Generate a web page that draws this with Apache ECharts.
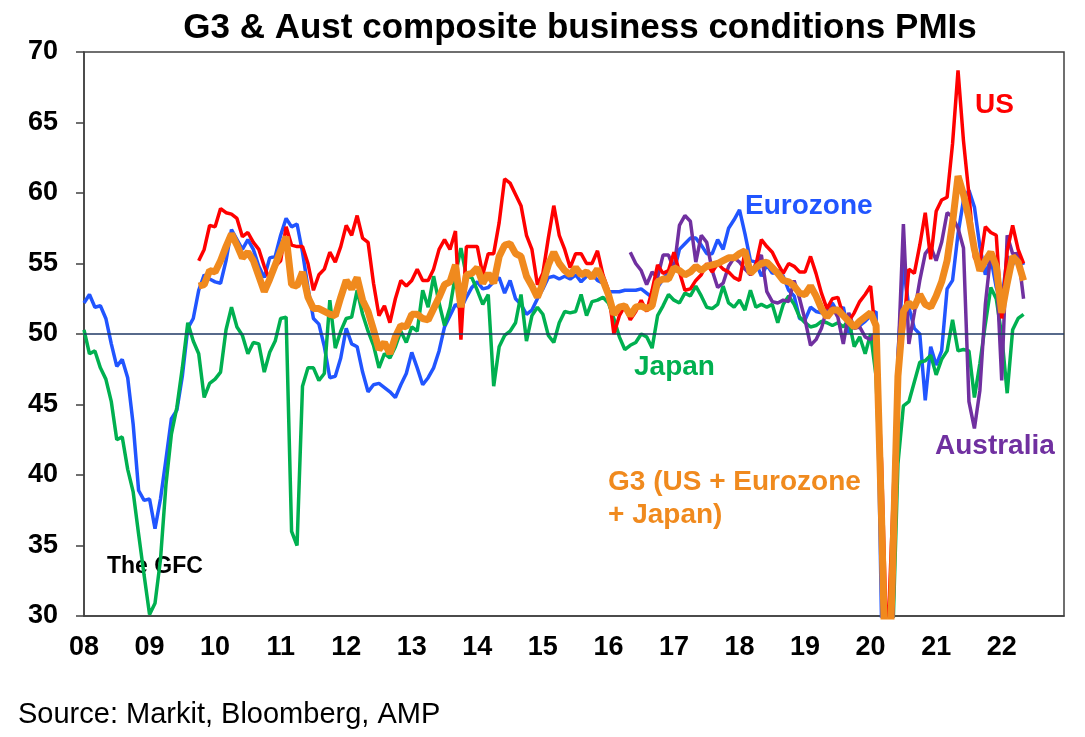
<!DOCTYPE html>
<html>
<head>
<meta charset="utf-8">
<title>G3 & Aust composite business conditions PMIs</title>
<script src="https://cdn.jsdelivr.net/npm/echarts@6/dist/echarts.min.js"></script>
<style>
  html, body { margin: 0; padding: 0; background: #fff; }
  #chart { width: 1085px; height: 737px; }
</style>
</head>
<body>
<div id="chart"></div>
<script>
// monthly readings, month 0 = Jan 2008
var yearLabels = ['08','09','10','11','12','13','14','15','16','17','18','19','20','21','22'];

// Eurozone composite PMI from Jan 2008
var eurozoneStart = 0;
var eurozone = [
  52.2, 52.8, 51.9, 52.0, 51.1, 49.3, 47.7, 48.2, 46.9, 43.6, 38.9, 38.2,
  38.3, 36.2, 38.3, 41.1, 44.0, 44.6, 47.0, 50.4, 51.1, 53.1, 54.2, 53.9,
  53.7, 53.6, 55.2, 57.4, 56.7, 56.0, 56.7, 56.0, 54.8, 54.0, 55.4, 55.5,
  57.0, 58.2, 57.6, 57.8, 55.8, 53.3, 51.1, 50.7, 49.1, 46.9, 47.0, 48.3,
  50.4, 49.3, 49.1, 47.3, 45.9, 46.4, 46.5, 46.2, 45.9, 45.5, 46.4, 47.2,
  48.7, 47.6, 46.4, 46.9, 47.6, 48.8, 50.5, 51.3, 52.1, 51.8, 52.6, 53.3,
  53.7, 53.2, 53.3, 53.7, 54.0, 52.9, 53.8, 52.5, 52.1, 51.4, 51.7, 52.5,
  53.2, 54.0, 54.1, 53.9, 54.1, 53.9, 54.2, 53.7, 54.1, 54.3, 53.8, 53.6,
  53.0, 53.0, 53.0, 53.1, 53.1, 53.1, 53.2, 52.9, 52.6, 53.3, 53.9, 54.4,
  54.4, 56.0, 56.4, 56.8, 56.8, 56.3, 55.7, 55.7, 56.7, 56.0, 57.5, 58.1,
  58.8, 57.1, 55.2, 55.1, 54.1, 54.9, 54.3, 54.5, 54.1, 53.1, 52.7, 51.1,
  51.0, 51.9, 51.6, 51.5, 51.8, 52.2, 51.5, 51.9, 50.1, 50.6, 50.6, 50.9,
  51.3, 51.6, 29.7, 13.6, 31.9, 48.5, 54.9, 51.9, 50.4, 50.0, 45.3, 49.1,
  47.8, 48.8, 53.2, 53.8, 57.1, 59.5, 60.2, 59.0, 56.2, 54.2, 55.4, 53.3,
  52.3, 55.5, 54.9, 55.8, 54.9
];

// Japan composite PMI from Jan 2008
var japanStart = 0;
var japan = [
  50.3, 48.6, 48.8, 47.6, 46.8, 45.2, 42.5, 42.7, 40.4, 38.8, 35.8, 32.9,
  30.1, 30.9, 34.0, 39.3, 42.9, 44.8, 47.6, 50.8, 49.5, 48.6, 45.5, 46.5,
  46.8, 47.3, 50.3, 51.9, 50.5, 49.9, 48.6, 49.4, 49.3, 47.3, 48.7, 49.5,
  51.1, 51.2, 36.0, 35.0, 46.3, 47.6, 47.6, 46.7, 47.2, 52.4, 49.0, 50.2,
  51.1, 51.2, 53.1, 51.4, 50.2, 49.2, 47.6, 48.6, 48.3, 49.1, 50.2, 49.4,
  50.5, 50.2, 53.1, 51.9, 54.1, 52.2, 50.6, 51.9, 54.2, 56.1, 54.1, 54.0,
  53.1, 52.1, 52.8, 46.3, 49.1, 49.9, 50.2, 50.8, 52.8, 49.5, 51.3, 51.9,
  51.4, 49.9, 49.4, 50.8, 51.6, 51.5, 51.6, 52.8, 51.3, 52.3, 52.4, 52.6,
  52.2, 51.1, 49.8, 48.9, 49.2, 49.4, 50.0, 49.8, 49.0, 51.3, 52.0, 52.8,
  52.4, 52.2, 52.9, 52.7, 53.4, 52.7, 51.9, 51.8, 52.1, 53.4, 52.2, 51.9,
  52.4, 51.7, 53.1, 51.9, 52.1, 51.9, 52.1, 50.8, 52.1, 52.7, 52.1, 51.2,
  50.8, 50.5, 50.6, 50.9, 50.8, 50.6, 50.8, 50.5, 51.0, 49.1, 49.8, 48.6,
  50.0, 47.0, 36.2, 25.8, 27.8, 40.8, 44.9, 45.2, 46.6, 48.0, 48.1, 48.5,
  47.1, 48.2, 48.8, 51.0, 48.8, 48.9, 48.8, 45.5, 47.9, 50.7, 53.3, 52.5,
  49.9, 45.8, 50.3, 51.1, 51.4
];

// US composite PMI from Oct 2009
var usStart = 21;
var us = [
  55.2, 56.0, 57.7,
  57.6, 58.9, 58.6, 58.5, 58.2, 56.9, 57.2, 56.5, 56.0, 54.8, 53.8, 54.8,
  55.2, 57.6, 56.3, 56.2, 56.2, 55.0, 53.1, 54.2, 54.6, 55.8, 55.1, 56.2,
  57.7, 57.0, 58.4, 56.8, 56.5, 53.6, 51.3, 52.0, 50.8, 52.5, 53.8, 53.4,
  53.8, 54.6, 53.8, 53.8, 54.6, 56.0, 56.7, 56.0, 57.3, 49.6, 56.2, 56.2,
  56.2, 54.2, 55.7, 55.7, 57.9, 61.0, 60.7, 59.9, 59.1, 57.0, 56.0, 53.5,
  54.3, 56.8, 59.1, 57.0, 56.0, 54.7, 55.7, 55.7, 55.0, 55.0, 55.9, 54.2,
  53.1, 50.0, 51.3, 52.0, 51.0, 51.6, 52.4, 51.6, 53.1, 54.9, 54.3, 54.5,
  55.8, 54.4, 53.1, 53.2, 53.8, 54.2, 55.0, 54.4, 55.0, 54.6, 54.4, 54.0,
  53.8, 55.8, 54.2, 54.9, 56.7, 56.2, 55.8, 55.0, 54.3, 55.0, 54.8, 54.4,
  54.4, 55.5, 54.3, 52.9, 51.8, 52.5, 52.6, 51.3, 50.9, 51.5, 52.3, 52.8,
  53.4, 49.6, 40.9, 27.0, 37.0, 47.9, 50.3, 54.6, 54.3, 56.3, 58.6, 55.3,
  58.7, 59.5, 59.7, 63.5, 68.7, 63.7, 59.9, 55.4, 55.0, 57.6, 57.2, 57.0,
  51.1, 55.9, 57.7, 56.0, 55.0
];

// G3 (US + Eurozone + Japan) from Oct 2009
var g3Start = 21;
var g3 = [
  53.4, 53.5, 54.5,
  54.4, 55.2, 56.2, 57.1, 56.3, 55.4, 55.8, 55.2, 54.1, 53.0, 53.9, 54.9,
  55.9, 56.9, 53.5, 53.4, 54.4, 52.6, 51.8, 51.8, 51.6, 51.4, 51.3, 52.6,
  53.8, 53.2, 54.0, 52.4, 51.6, 50.3, 48.9, 49.4, 48.6, 49.8, 50.6, 50.5,
  51.4, 51.4, 51.1, 51.0, 51.8, 52.6, 53.5, 53.7, 54.9, 51.9, 54.2, 54.3,
  54.7, 53.6, 54.3, 53.6, 55.5, 56.3, 56.4, 55.7, 55.5, 54.1, 53.4, 52.6,
  53.6, 54.9, 55.8, 55.0, 54.5, 54.2, 54.7, 54.2, 54.4, 54.0, 54.6, 53.8,
  52.8, 51.4, 51.9, 52.0, 51.3, 51.9, 52.0, 51.8, 52.0, 53.7, 53.9, 53.9,
  54.7, 54.5, 54.2, 54.4, 54.8, 54.5, 54.8, 54.9, 55.0, 55.2, 55.4, 55.4,
  55.7, 55.9, 54.3, 54.7, 55.0, 55.1, 54.7, 54.3, 53.8, 53.7, 53.4, 52.9,
  52.8, 53.4, 52.7, 51.8, 51.2, 51.7, 51.7, 51.3, 50.9, 50.5, 50.9, 51.2,
  51.5, 50.6, 37.0, 21.0, 33.0, 47.0, 51.6, 52.2, 51.9, 52.8, 52.1, 51.9,
  52.7, 53.7, 55.2, 57.9, 61.2, 59.9, 58.2, 56.0, 54.5, 55.2, 55.8, 54.8,
  51.5, 53.6, 55.5, 55.1, 53.8
];

// Australia composite PMI from May 2016
var australiaStart = 100;
var australia = [
  55.8, 55.0, 54.5, 53.5, 54.4, 54.0, 55.6, 55.6,
  54.6, 57.7, 58.4, 58.0, 55.1, 57.0, 56.5, 54.5, 53.3, 53.6, 54.8, 55.4,
  55.1, 54.6, 54.2, 55.0, 55.6, 53.0, 52.3, 52.2, 52.4, 52.3, 53.8, 52.5,
  51.0, 49.2, 49.6, 50.4, 51.8, 51.9, 51.2, 49.3, 51.5, 50.4, 50.5, 49.8,
  49.6, 50.2, 39.4, 21.7, 28.1, 48.0, 57.8, 49.3, 51.5, 53.8, 55.7, 56.2,
  55.2, 56.5, 58.6, 58.3, 57.5, 56.1, 45.2, 43.3, 46.0, 52.1, 55.7, 54.9,
  46.7, 57.0, 55.7, 55.7, 52.5
];

function toPoints(start, values) {
  return values.map(function (v, i) { return [start + i, v]; });
}

function lineSeries(name, start, values, color, width) {
  return {
    name: name,
    type: 'line',
    data: toPoints(start, values),
    showSymbol: false,
    clip: true,
    lineStyle: { color: color, width: width },
    itemStyle: { color: color },
    emphasis: { disabled: true }
  };
}

var FONT = '"Liberation Sans", Arial, sans-serif';

var myChart = echarts.init(document.getElementById('chart'));
myChart.setOption({
  animation: false,
  backgroundColor: '#ffffff',
  grid: {
    left: 84, right: 21, top: 52, bottom: 121,
    show: true, borderColor: '#404040', borderWidth: 1.5
  },
  xAxis: {
    type: 'value',
    min: 0,
    max: 179.4,
    interval: 12,
    axisLine: { show: true, lineStyle: { color: '#404040', width: 1.5 } },
    axisTick: { show: false },
    splitLine: { show: false },
    axisLabel: {
      margin: 18,
      color: '#000',
      fontFamily: FONT,
      fontWeight: 'bold',
      fontSize: 27,
      showMaxLabel: false,
      formatter: function (v) {
        if (v % 12 !== 0) return '';
        return yearLabels[v / 12] || '';
      }
    }
  },
  yAxis: {
    type: 'value',
    min: 30,
    max: 70,
    interval: 5,
    axisLine: { show: true, lineStyle: { color: '#404040', width: 1.5 } },
    axisTick: { show: true, inside: false, length: 8, lineStyle: { color: '#404040', width: 1.5 } },
    splitLine: { show: false },
    axisLabel: {
      margin: 26,
      color: '#000',
      fontFamily: FONT,
      fontWeight: 'bold',
      fontSize: 27
    }
  },
  series: [
    {
      name: 'ref',
      type: 'line',
      data: [],
      markLine: {
        silent: true,
        symbol: 'none',
        label: { show: false },
        lineStyle: { color: '#1F3864', width: 1.5, type: 'solid' },
        data: [{ yAxis: 50 }]
      }
    },
    lineSeries('Eurozone', eurozoneStart, eurozone, '#2155FF', 3.5),
    lineSeries('Japan', japanStart, japan, '#00B050', 3.5),
    lineSeries('Australia', australiaStart, australia, '#7030A0', 3.5),
    lineSeries('US', usStart, us, '#FF0000', 3.5),
    lineSeries('G3', g3Start, g3, '#F08A1E', 7)
  ],
  graphic: [
    { type: 'text', x: 580, y: 28, style: { text: 'G3 & Aust composite business conditions PMIs', fill: '#000', font: 'bold 35px ' + FONT, align: 'center', verticalAlign: 'middle' } },
    { type: 'text', x: 975, y: 105, style: { text: 'US', fill: '#FF0000', font: 'bold 28px ' + FONT, verticalAlign: 'middle' } },
    { type: 'text', x: 745, y: 206, style: { text: 'Eurozone', fill: '#2155FF', font: 'bold 28px ' + FONT, verticalAlign: 'middle' } },
    { type: 'text', x: 634, y: 367, style: { text: 'Japan', fill: '#00B050', font: 'bold 28px ' + FONT, verticalAlign: 'middle' } },
    { type: 'text', x: 935, y: 446, style: { text: 'Australia', fill: '#7030A0', font: 'bold 28px ' + FONT, verticalAlign: 'middle' } },
    { type: 'text', x: 608, y: 482, style: { text: 'G3 (US + Eurozone', fill: '#F08A1E', font: 'bold 28px ' + FONT, verticalAlign: 'middle' } },
    { type: 'text', x: 608, y: 515, style: { text: '+ Japan)', fill: '#F08A1E', font: 'bold 28px ' + FONT, verticalAlign: 'middle' } },
    { type: 'text', x: 107, y: 567, style: { text: 'The GFC', fill: '#000', font: 'bold 23px ' + FONT, verticalAlign: 'middle' } },
    { type: 'text', x: 18, y: 715, style: { text: 'Source: Markit, Bloomberg, AMP', fill: '#000', font: '29px ' + FONT, verticalAlign: 'middle' } }
  ]
});
</script>
</body>
</html>
